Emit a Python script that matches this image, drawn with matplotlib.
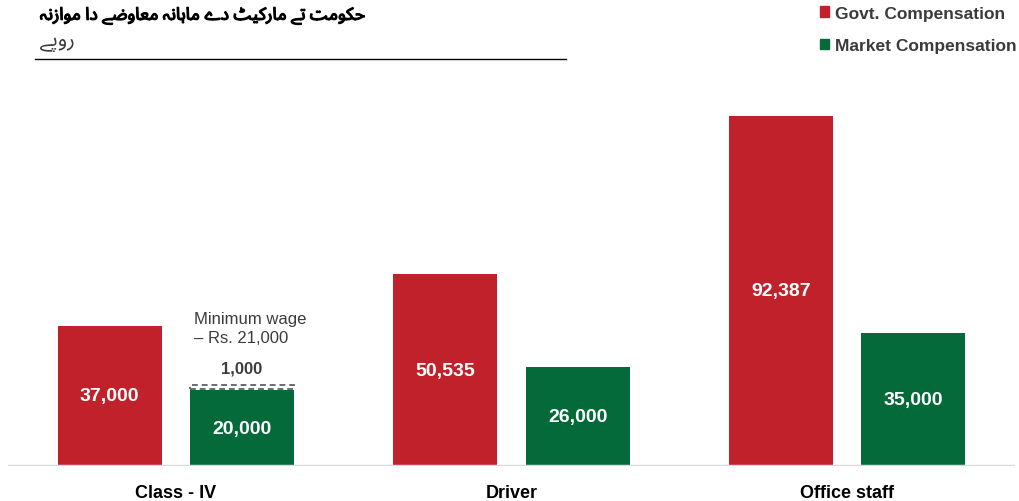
import matplotlib
matplotlib.use("Agg")
import matplotlib.pyplot as plt
import matplotlib.patheffects as pe
from matplotlib import font_manager, ft2font
from matplotlib.font_manager import FontProperties
from matplotlib.lines import Line2D
from matplotlib.patches import Patch
import numpy as np

# data
categories = ["Class - IV", "Driver", "Office staff"]
govt = [37000, 50535, 92387]
market = [20000, 26000, 35000]
min_wage_gap = 1000  # gap between class-IV market pay and minimum wage
series_names = ["Govt. Compensation", "Market Compensation"]

title = "حکومت تے مارکیٹ دے ماہانہ معاوضے دا موازنہ"
subtitle = "روپے"

RED = "#C0212A"
GREEN = "#046A39"
DARK = "#3b3b3b"

# matplotlib does no arabic shaping, so pick the contextual forms by hand
# (isolated, final, initial, medial); None = letter never joins the next one
FORMS = {
    "ا": (0xFE8D, 0xFE8E, None, None),
    "پ": (0xFB56, 0xFB57, 0xFB58, 0xFB59),
    "ت": (0xFE95, 0xFE96, 0xFE97, 0xFE98),
    "ٹ": (0xFB66, 0xFB67, 0xFB68, 0xFB69),
    "ح": (0xFEA1, 0xFEA2, 0xFEA3, 0xFEA4),
    "د": (0xFEA9, 0xFEAA, None, None),
    "ر": (0xFEAD, 0xFEAE, None, None),
    "ز": (0xFEAF, 0xFEB0, None, None),
    "ض": (0xFEBD, 0xFEBE, 0xFEBF, 0xFEC0),
    "ع": (0xFEC9, 0xFECA, 0xFECB, 0xFECC),
    "ک": (0xFB8E, 0xFB8F, 0xFB90, 0xFB91),
    "م": (0xFEE1, 0xFEE2, 0xFEE3, 0xFEE4),
    "ن": (0xFEE5, 0xFEE6, 0xFEE7, 0xFEE8),
    "و": (0xFEED, 0xFEEE, None, None),
    "ہ": (0xFBA6, 0xFBA7, 0xFBA8, 0xFBA9),
    "ی": (0xFBFC, 0xFBFD, 0xFBFE, 0xFBFF),
    "ے": (0xFBAE, 0xFBAF, None, None),
}


def forms(text):
    res = []
    for i, ch in enumerate(text):
        if ch not in FORMS:
            res.append((ch, None))
            continue
        prev = text[i - 1] if i > 0 else ""
        nxt = text[i + 1] if i + 1 < len(text) else ""
        iso, fin, ini, med = FORMS[ch]
        joins_prev = prev in FORMS and FORMS[prev][2] is not None
        joins_next = nxt in FORMS and ini is not None
        if joins_prev and joins_next:
            c = med
        elif joins_prev:
            c = fin
        elif joins_next:
            c = ini
        else:
            c = iso
        res.append((ch, c))
    return res


def shape(text, cmap):
    out = [chr(c) if c is not None and c in cmap else ch for ch, c in forms(text)]
    # right-to-left: reverse into visual order
    return "".join(reversed(out))


PREFERRED = ["Noto Sans Arabic", "Noto Naskh Arabic", "Almarai", "Cairo",
             "Tajawal", "Alexandria", "DejaVu Sans"]


def arabic_font(text, weight):
    need = {c if c is not None else ord(ch) for ch, c in forms(text)}
    fonts = sorted(font_manager.fontManager.ttflist, key=lambda f: (f.name, f.fname))
    best, best_key = None, None
    for pass_fonts in ([f for f in fonts if f.name in PREFERRED], fonts):
        for f in pass_fonts:
            try:
                cmap = set(ft2font.FT2Font(f.fname).get_charmap())
            except Exception:
                continue
            cover = len(need & cmap)
            if cover == 0:
                continue
            w = f.weight if isinstance(f.weight, int) else 400
            rank = len(PREFERRED) - PREFERRED.index(f.name) if f.name in PREFERRED else 0
            key = (cover, rank, f.style == "normal", -abs(w - weight))
            if best_key is None or key > best_key:
                best, best_key = (f.fname, cmap), key
        if best_key is not None and best_key[0] == len(need):
            break
    return best


fig = plt.figure(figsize=(10.19, 5.02), dpi=100)
ax = fig.add_axes([8 / 1019, 35 / 502, 1007 / 1019, 407 / 502])

narrow = ["Liberation Sans Narrow", "Liberation Sans", "DejaVu Sans"]
arial = ["Liberation Sans", "DejaVu Sans"]

x = np.arange(len(categories))
w = 0.31
off = 0.197

b1 = ax.bar(x - off, govt, w, color=RED, zorder=2)
b2 = ax.bar(x + off, market, w, color=GREEN, zorder=2)

# dashed box: top-up from class-IV market pay to minimum wage
ax.bar(x[0] + off, min_wage_gap, w, bottom=market[0] + 400, fill=False,
       edgecolor="#6b6b6b", linestyle=(0, (3, 2)), linewidth=1.4, zorder=2)

for bars in (b1, b2):
    ax.bar_label(bars, labels=[f"{v:,}" for v in bars.datavalues],
                 label_type="center", color="white", fontsize=14,
                 fontweight="bold", family=narrow)

ax.annotate(f"{min_wage_gap:,}", (x[0] + off, market[0] + min_wage_gap + 400),
            xytext=(0, 7), textcoords="offset points", ha="center", va="bottom",
            fontsize=12, fontweight="bold", color=DARK, family=narrow)
ax.annotate("Minimum wage\n– Rs. 21,000", (x[0] + off - w / 2, market[0] + min_wage_gap),
            xytext=(3, 30), textcoords="offset points", ha="left", va="bottom",
            fontsize=12, color=DARK, family=arial, linespacing=1.35)

ax.axhline(0, color="#d9d9d9", linewidth=2.5, zorder=3)

ax.set_xlim(-0.5, 2.5)
ax.set_ylim(0, 107400)
ax.set_xticks(x, categories, fontsize=13, fontweight="bold", family=narrow)
ax.tick_params(axis="x", length=0, pad=13)
ax.set_yticks([])
for s in ax.spines.values():
    s.set_visible(False)

# header (stroke thickens the title, the arabic font has no bold face here)
t_path, t_map = arabic_font(title, 700)
s_path, s_map = arabic_font(subtitle, 400)
fig.text(40 / 1019, 1 - 16 / 502, shape(title, t_map), ha="left", va="center",
         fontproperties=FontProperties(fname=t_path, size=12.5), color="black",
         path_effects=[pe.withStroke(linewidth=0.9, foreground="black")])
fig.text(40 / 1019, 1 - 41 / 502, shape(subtitle, s_map), ha="left", va="center",
         fontproperties=FontProperties(fname=s_path, size=15), color=DARK)
fig.add_artist(Line2D([35 / 1019, 566 / 1019], [1 - 60 / 502] * 2,
                      color="black", linewidth=1))

handles = [Patch(color=RED), Patch(color=GREEN)]
fig.legend(handles, series_names, loc="upper left",
           bbox_to_anchor=(804 / 1019, 1 + 9 / 502), frameon=False,
           handlelength=0.55, handleheight=0.55, handletextpad=0.35,
           labelspacing=1.0, prop={"family": arial, "weight": "bold", "size": 12.5},
           labelcolor=DARK)

fig.savefig("out.png", dpi=100)
